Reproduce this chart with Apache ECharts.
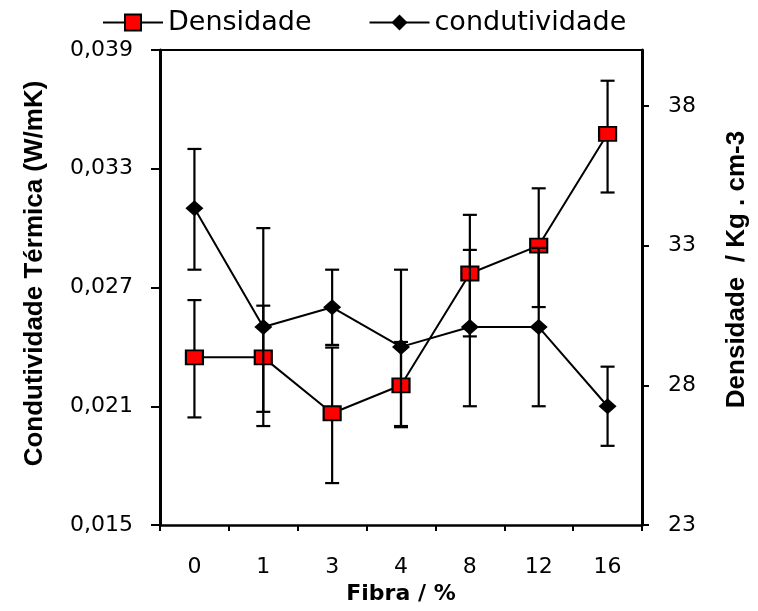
<!DOCTYPE html>
<html><head><meta charset="utf-8">
<script src="https://cdn.jsdelivr.net/npm/echarts@6/dist/echarts.min.js"></script>
<style>html,body{margin:0;padding:0;background:#fff}#c{width:758px;height:611px}</style>
</head><body><div id="c"></div>
<script>
const categories = ['0', '1', '3', '4', '8', '12', '16'];
const densidade = [29.0, 29.0, 27.0, 28.0, 32.0, 33.0, 37.0];
const densidadeLow = [26.85, 27.05, 24.5, 26.5, 29.75, 30.8, 34.9];
const densidadeHigh = [31.05, 30.85, 29.35, 29.55, 34.1, 35.05, 38.9];
const condutividade = [0.0310, 0.0250, 0.0260, 0.0240, 0.0250, 0.0250, 0.0210];
const condutividadeLow = [0.0279, 0.0200, 0.0241, 0.0200, 0.0210, 0.0210, 0.0190];
const condutividadeHigh = [0.0340, 0.0300, 0.0279, 0.0279, 0.0289, 0.0290, 0.0230];
const leftTicks = [0.015, 0.021, 0.027, 0.033, 0.039];
const rightTicks = [23, 28, 33, 38];

const chart = echarts.init(document.getElementById('c'), null, {renderer: 'canvas'});

function errRender(params, api) {
  const i = api.value(0);
  const lo = api.coord([i, api.value(1)]);
  const hi = api.coord([i, api.value(2)]);
  const hw = 7;
  const st = {stroke: '#000', lineWidth: 2.2};
  return {
    type: 'group',
    children: [
      {type: 'line', shape: {x1: lo[0], y1: lo[1], x2: hi[0], y2: hi[1]}, style: st},
      {type: 'line', shape: {x1: lo[0] - hw, y1: lo[1], x2: lo[0] + hw, y2: lo[1]}, style: st},
      {type: 'line', shape: {x1: hi[0] - hw, y1: hi[1], x2: hi[0] + hw, y2: hi[1]}, style: st}
    ]
  };
}

const tickFont = {color: '#000', fontFamily: 'DejaVu Sans', fontSize: 22};
const titleFont = {color: '#000', fontFamily: 'Liberation Sans', fontWeight: 'bold', fontSize: 26};

chart.setOption({
  animation: false,
  backgroundColor: '#fff',
  grid: {left: 160, right: 109, top: 50, bottom: 86},
  legend: {
    data: ['Densidade', 'condutividade'],
    left: 97, top: 4,
    itemWidth: 60, itemHeight: 20, itemGap: 57,
    textStyle: {color: '#000', fontFamily: 'DejaVu Sans', fontSize: 27}
  },
  xAxis: [{
    type: 'category',
    data: categories,
    boundaryGap: true,
    position: 'bottom',
    axisLine: {lineStyle: {color: '#000', width: 2.5}},
    axisTick: {show: true, inside: false, length: 6, lineStyle: {color: '#000', width: 2}},
    axisLabel: Object.assign({margin: 31}, tickFont),
    splitLine: {show: false},
    name: 'Fibra / %',
    nameLocation: 'middle',
    nameGap: 58,
    nameTextStyle: {color: '#000', fontFamily: 'DejaVu Sans', fontWeight: 'bold', fontSize: 22}
  }, {
    type: 'category',
    data: categories,
    position: 'top',
    axisLine: {show: true, lineStyle: {color: '#000', width: 2}},
    axisTick: {show: false},
    axisLabel: {show: false},
    splitLine: {show: false}
  }],
  yAxis: [{
    type: 'value',
    position: 'left',
    min: 0.015, max: 0.039,
    axisLine: {show: true, lineStyle: {color: '#000', width: 3}},
    axisTick: {show: true, inside: false, length: 9, customValues: leftTicks, lineStyle: {color: '#000', width: 2}},
    axisLabel: Object.assign({margin: 27, customValues: leftTicks,
      formatter: v => v.toFixed(3).replace('.', ',')}, tickFont),
    splitLine: {show: false},
    name: 'Condutividade Térmica (W/mK)',
    nameLocation: 'middle',
    nameRotate: 90,
    nameGap: 112,
    nameTextStyle: Object.assign({padding: [0, 0, 0, 28]}, titleFont)
  }, {
    type: 'value',
    position: 'right',
    min: 23, max: 40,
    axisLine: {show: true, lineStyle: {color: '#000', width: 3}},
    axisTick: {show: true, inside: false, length: 7, customValues: rightTicks, lineStyle: {color: '#000', width: 2}},
    axisLabel: Object.assign({margin: 26, customValues: rightTicks}, tickFont),
    splitLine: {show: false},
    name: 'Densidade  / Kg . cm-3',
    nameLocation: 'middle',
    nameRotate: 90,
    nameGap: 82,
    nameTextStyle: Object.assign({padding: [0, 0, 0, 36]}, titleFont)
  }],
  series: [{
    name: 'densErr',
    type: 'custom',
    xAxisIndex: 0, yAxisIndex: 1,
    renderItem: errRender,
    encode: {x: 0, y: [1, 2]},
    data: categories.map((c, i) => [i, densidadeLow[i], densidadeHigh[i]]),
    z: 1, silent: true
  }, {
    name: 'Densidade',
    type: 'line',
    xAxisIndex: 0, yAxisIndex: 1,
    data: densidade,
    symbol: 'rect',
    symbolSize: [17, 14],
    itemStyle: {color: '#FF0000', borderColor: '#000', borderWidth: 2},
    lineStyle: {color: '#000', width: 2},
    z: 2
  }, {
    name: 'condErr',
    type: 'custom',
    xAxisIndex: 0, yAxisIndex: 0,
    renderItem: errRender,
    encode: {x: 0, y: [1, 2]},
    data: categories.map((c, i) => [i, condutividadeLow[i], condutividadeHigh[i]]),
    z: 3, silent: true
  }, {
    name: 'condutividade',
    type: 'line',
    xAxisIndex: 0, yAxisIndex: 0,
    data: condutividade,
    symbol: 'diamond',
    symbolSize: [18, 16],
    itemStyle: {color: '#000', borderColor: '#000', borderWidth: 0},
    lineStyle: {color: '#000', width: 2},
    z: 4
  }]
});
</script>
</body></html>
